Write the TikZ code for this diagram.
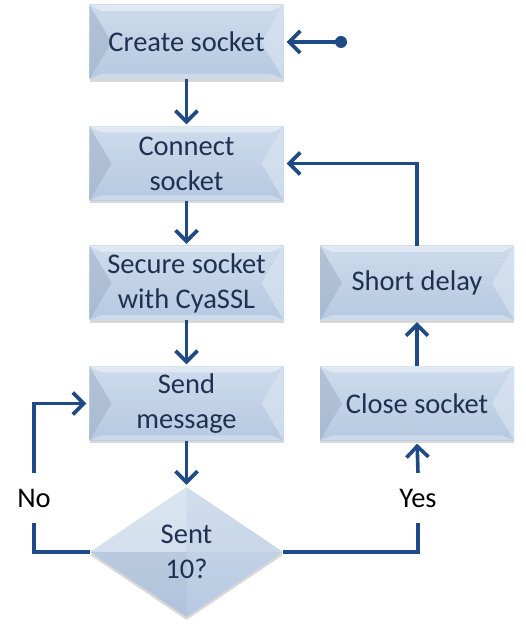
\documentclass[tikz,border=0pt]{standalone}
\usepackage{fontspec}
\setmainfont{Carlito}
\usepackage{xcolor}
\usetikzlibrary{shapes.geometric,arrows.meta,shadows}

\definecolor{boxtext}{HTML}{1F3050}
\definecolor{flowline}{HTML}{1F4A85}
\definecolor{facetop}{HTML}{CDDBEC}
\definecolor{facebot}{HTML}{B6C9E1}
\definecolor{bevdark}{HTML}{9AACC5}
\definecolor{bevlight}{HTML}{DCE6F2}

\begin{document}
\begin{tikzpicture}[x=1pt,y=1pt,
    >={Straight Barb[length=11pt,width=22pt]},
    flow/.style={flowline,line width=3.6pt},
    stepbox/.style={minimum width=194pt,minimum height=74pt,inner sep=0pt,
        top color=facetop,bottom color=facebot,text=boxtext,align=center,
        drop shadow={shadow xshift=0pt,shadow yshift=-3pt,opacity=.3},
        path picture={
          \fill[bevdark,opacity=.5] (path picture bounding box.north west)
            -- ([xshift=22pt]path picture bounding box.west)
            -- (path picture bounding box.south west) -- cycle;
          \fill[bevlight,opacity=.6] (path picture bounding box.north east)
            -- ([xshift=-22pt]path picture bounding box.east)
            -- (path picture bounding box.south east) -- cycle;
          \fill[white,opacity=.4] (path picture bounding box.north west)
            -- (path picture bounding box.north east)
            -- ([shift={(-12pt,-6pt)}]path picture bounding box.north east)
            -- ([shift={(12pt,-6pt)}]path picture bounding box.north west) -- cycle;
          \fill[white,opacity=.3] (path picture bounding box.south west)
            -- (path picture bounding box.south east)
            -- ([shift={(-12pt,5pt)}]path picture bounding box.south east)
            -- ([shift={(12pt,5pt)}]path picture bounding box.south west) -- cycle;
        }},
    testbox/.style={diamond,minimum width=193pt,minimum height=130pt,inner sep=0pt,
        top color=facetop,bottom color=facebot,text=boxtext,align=center,
        drop shadow={shadow xshift=0pt,shadow yshift=-3pt,opacity=.3},
        path picture={
          \fill[white,opacity=.3] (path picture bounding box.west)
            -- (path picture bounding box.north) -- (path picture bounding box.center) -- cycle;
          \fill[bevlight,opacity=.25] (path picture bounding box.east)
            -- (path picture bounding box.north) -- (path picture bounding box.center) -- cycle;
          \fill[bevdark,opacity=.2] (path picture bounding box.west)
            -- (path picture bounding box.south) -- (path picture bounding box.center) -- cycle;
        }},
    lbl/.style={minimum height=50pt,inner sep=0pt}]

\useasboundingbox[fill=white] (0,0) rectangle (525,631);
\fontsize{28.5}{35}\selectfont

% left column
\node[stepbox] (create) at (186.5,589) {Create socket};
\node[stepbox] (connect) at (186.5,467.5) {Connect\\socket};
\node[stepbox] (secure) at (186.5,348) {Secure socket\\with CyaSSL};
\node[stepbox] (send) at (186.5,227.5) {Send\\message};
\node[testbox] (test) at (186.5,79) {Sent\\10?};

% right column
\node[stepbox] (close) at (417,227.5) {Close socket};
\node[stepbox] (delay) at (417,348) {Short delay};

\node[lbl] (no) at (34,133) {No};
\node[lbl] (yes) at (418,133) {Yes};

\coordinate (start) at (341,589);
\fill[flowline] (start) circle(6);

\draw[flow,->,shorten >=3pt] (start) -- (create.east);
\draw[flow,->,shorten >=2pt] (create) -- (connect);
\draw[flow,->,shorten >=2pt] (connect) -- (secure);
\draw[flow,->,shorten >=2pt] (secure) -- (send);
\draw[flow,->,shorten >=2pt] (send) -- (test);
\draw[flow] (test.east) -| (yes.south);
\draw[flow,->,shorten >=3pt] (yes.north) -- (close.south);
\draw[flow,->,shorten >=2pt] (close) -- (delay);
\draw[flow,->,shorten >=3pt] (delay.north) |- (connect.east);
\draw[flow] (test.west) -| (no.south);
\draw[flow,->,shorten >=3pt] (no.north) |- (send.west);
\end{tikzpicture}
\end{document}
